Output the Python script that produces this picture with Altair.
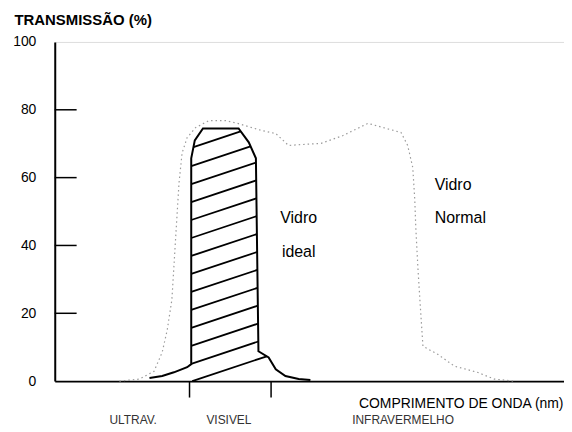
import altair as alt
import pandas as pd

# Ideal glass curve (solid, hatched)
ideal_x = [18.6, 21.1, 23.4, 26.0, 26.8, 26.8, 27.5, 29.1, 36.1, 38.1, 39.5, 40.0, 42.0, 43.4, 45.3, 47.9, 50.2]
ideal_y = [0.9, 1.5, 2.6, 4.1, 5.0, 65.7, 71.0, 74.5, 74.5, 70.4, 65.7, 8.8, 7.0, 3.5, 1.5, 0.6, 0.3]

# Normal glass curve (dotted)
normal_x = [12.7, 16.6, 19.5, 21.1, 22.1, 23.0, 23.8, 24.4, 25.0, 26.0, 27.7, 30.3, 33.6, 36.1, 40.6, 43.4,
            45.9, 52.3, 56.6, 61.5, 68.0, 69.3, 70.3, 70.7, 70.9, 71.3, 71.7, 72.3, 75.2, 78.5, 83.0, 86.3, 90.2]
normal_y = [0.0, 0.6, 2.9, 8.5, 15.2, 24.0, 43.7, 58.4, 67.2, 71.8, 74.8, 76.8, 76.8, 75.9, 73.9, 73.0,
            69.5, 70.1, 72.4, 76.0, 73.3, 69.5, 63.0, 53.4, 45.2, 33.7, 24.0, 10.3, 7.9, 4.4, 2.6, 0.6, 0.0]

# Hatching lines: y = slope * x + offset
hatch_slope = 0.5
hatch_offsets = [-13.5, -8.3, -3.0, 2.3, 7.6, 12.9, 18.2, 23.5, 28.8, 34.1, 39.4, 44.7, 50.0, 55.4]

y_ticks = [0, 20, 40, 60, 80, 100]
inner_ticks = [20, 40, 60, 80]
x_ticks = [26.4, 42.4]

band_labels = ["ULTRAV.", "VISIVEL", "INFRAVERMELHO"]
band_x = [15.4, 34.2, 68.4]
band_y = [-11.4, -11.4, -11.4]

curve_labels = ["Vidro", "ideal"]
curve_label_x = [47.9, 47.9]
curve_label_y = [48.1, 38.1]

normal_labels = ["Vidro", "Normal"]
normal_label_x = [74.6, 74.6]
normal_label_y = [57.8, 48.1]

x_title = "COMPRIMENTO DE ONDA (nm)"
y_title = "TRANSMISSÃO (%)"

FONT = "Liberation Sans"

# clip hatch lines to the ideal polygon
poly = list(zip(ideal_x, ideal_y)) + [(ideal_x[-1], 0.0), (ideal_x[0], 0.0)]
segs = []
for c in hatch_offsets:
    pts = []
    n = len(poly)
    for i in range(n):
        (x1, y1), (x2, y2) = poly[i], poly[(i + 1) % n]
        f1 = y1 - hatch_slope * x1 - c
        f2 = y2 - hatch_slope * x2 - c
        if f1 == f2:
            continue
        if (f1 <= 0 < f2) or (f2 <= 0 < f1):
            t = f1 / (f1 - f2)
            px = x1 + t * (x2 - x1)
            pts.append((px, hatch_slope * px + c))
    pts.sort()
    for j in range(0, len(pts) - 1, 2):
        segs.append({"x": pts[j][0], "y": pts[j][1], "x2": pts[j + 1][0], "y2": pts[j + 1][1]})

hatch_df = pd.DataFrame(segs)
ideal_df = pd.DataFrame({"x": ideal_x, "y": ideal_y, "i": range(len(ideal_x))})
normal_df = pd.DataFrame({"x": normal_x, "y": normal_y, "i": range(len(normal_x))})
ticks_df = pd.DataFrame({"y": inner_ticks})
band_df = pd.DataFrame({"t": band_labels, "x": band_x, "y": band_y})
clab_df = pd.DataFrame({"t": curve_labels, "x": curve_label_x, "y": curve_label_y})
nlab_df = pd.DataFrame({"t": normal_labels, "x": normal_label_x, "y": normal_label_y})
xt_df = pd.DataFrame({"t": [x_title], "x": [99.9], "y": [-6.7]})

xs = alt.Scale(domain=[0, 100], nice=False)
ys = alt.Scale(domain=[0, 100], nice=False)

x_axis = alt.Axis(values=x_ticks, labels=False, tickSize=16, tickColor="black", tickWidth=1.5,
                  domainColor="black", domainWidth=2, grid=False, title=None)
y_axis = alt.Axis(values=y_ticks, ticks=False, labelPadding=19, labelFont=FONT, labelFontSize=14,
                  labelColor="black", domainColor="black", domainWidth=2, grid=False,
                  title=y_title, titleAngle=0, titleAlign="left", titleBaseline="middle",
                  titleX=-41, titleY=-23, titleFont=FONT, titleFontSize=15, titleFontWeight="bold",
                  titleColor="black")

base_normal = alt.Chart(normal_df).mark_line(color="#9a9a9a", strokeWidth=1.2, strokeDash=[1.5, 3]).encode(
    x=alt.X("x:Q", scale=xs, axis=x_axis),
    y=alt.Y("y:Q", scale=ys, axis=y_axis),
    order="i:Q",
)

ideal = alt.Chart(ideal_df).mark_line(color="black", strokeWidth=2).encode(
    x=alt.X("x:Q", scale=xs), y=alt.Y("y:Q", scale=ys), order="i:Q"
)

hatch = alt.Chart(hatch_df).mark_rule(color="black", strokeWidth=1.8).encode(
    x=alt.X("x:Q", scale=xs), y=alt.Y("y:Q", scale=ys), x2="x2:Q", y2="y2:Q"
)

inner = alt.Chart(ticks_df).mark_rule(color="black", strokeWidth=1.5).encode(
    y=alt.Y("y:Q", scale=ys), x=alt.value(0), x2=alt.value(22)
)

clabels = alt.Chart(clab_df).mark_text(font=FONT, fontSize=16, color="black").encode(
    x=alt.X("x:Q", scale=xs), y=alt.Y("y:Q", scale=ys), text="t:N"
)

nlabels = alt.Chart(nlab_df).mark_text(font=FONT, fontSize=16, color="black", align="left").encode(
    x=alt.X("x:Q", scale=xs), y=alt.Y("y:Q", scale=ys), text="t:N"
)

blabels = alt.Chart(band_df).mark_text(font=FONT, fontSize=12, color="#333").encode(
    x=alt.X("x:Q", scale=xs), y=alt.Y("y:Q", scale=ys), text="t:N"
)

xtitle = alt.Chart(xt_df).mark_text(font=FONT, fontSize=14, color="black", align="right").encode(
    x=alt.X("x:Q", scale=xs), y=alt.Y("y:Q", scale=ys), text="t:N"
)

chart = alt.layer(base_normal, hatch, ideal, inner, clabels, nlabels, blabels, xtitle).properties(
    width=512, height=341,
    autosize=alt.AutoSizeParams(type="none"),
    padding={"left": 47, "top": 33, "right": 0, "bottom": 48},
).configure_view(stroke="black", strokeWidth=2).configure(background="white")

chart.save("out.html", embed_options={"renderer": "svg", "actions": False})
